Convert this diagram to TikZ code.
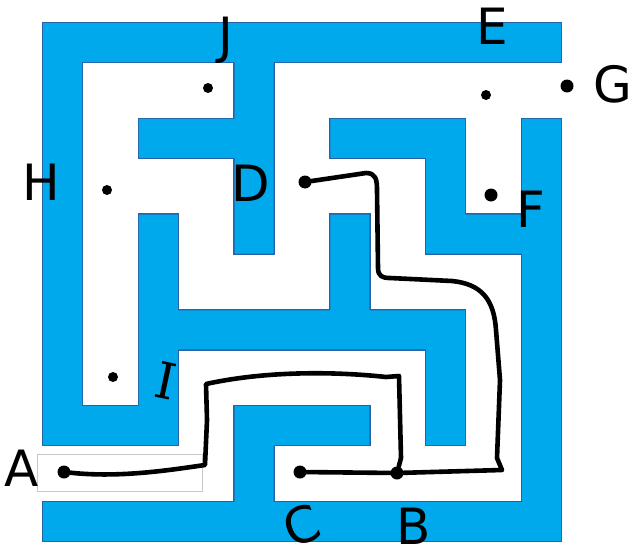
\documentclass[tikz,border=0pt]{standalone}
\usepackage{fontspec}
\setmainfont{DejaVu Sans}
\newfontfamily\handserif{DejaVu Serif}
\usepackage{tikz}
\usetikzlibrary{arrows.meta,positioning}
\definecolor{mazefill}{HTML}{00A9EB}
\definecolor{mazerim}{HTML}{2A60A8}
\definecolor{boxgray}{HTML}{C8C8C8}

\begin{document}
\begin{tikzpicture}[x=1pt,y=-1pt,
  lab/.style={font=\fontsize{50}{50}\selectfont,text=black,inner sep=0pt},
  dot/.style={circle,fill=black,inner sep=0pt,minimum size=13pt},
  smalldot/.style={circle,fill=black,inner sep=0pt,minimum size=10pt},
  route/.style={draw=black,line width=4.6pt,line cap=round,line join=round},
  walls/.style={fill=mazefill,preaction={draw=mazerim,line width=2.4pt}}]
\useasboundingbox[fill=white] (0,0) rectangle (634,554);
% maze walls, one path so the rim only shows on the outside
\path[walls] (43,23) rectangle (561,62)
  (43,502) rectangle (561,541)
  (43,23) rectangle (82,445.2)
  (522,118.8) rectangle (561,541)
  (138.8,118.8) rectangle (273.6,157.8)
  (330.4,118.8) rectangle (465.2,157.8)
  (234.6,23) rectangle (273.6,253.6)
  (426.2,118.8) rectangle (465.2,253.6)
  (426.2,214.6) rectangle (561,253.6)
  (138.8,214.6) rectangle (177.8,445.2)
  (330.4,214.6) rectangle (369.4,349.4)
  (138.8,310.4) rectangle (465.2,349.4)
  (426.2,310.4) rectangle (465.2,445.2)
  (43,406.2) rectangle (177.8,445.2)
  (234.6,406.2) rectangle (369.4,445.2)
  (234.6,406.2) rectangle (273.6,541);
% thin box round the entrance
\draw[boxgray,line width=0.8pt] (37,454) rectangle (202,491);
% points
\node[smalldot] (J) at (208,88) {};
\node[smalldot] (H) at (107,190) {};
\node[dot] (D) at (305,182) {};
\node[smalldot] (E) at (486,95) {};
\node[dot] (G) at (567,86) {};
\node[dot] (F) at (491,195) {};
\node[smalldot] (I) at (113,377) {};
\node[dot] (A) at (64,472) {};
\node[dot] (C) at (300,472) {};
\node[dot] (B) at (397,473) {};
% letters
\node[lab] (labJ) at (226,40) {J};
\node[lab] (labH) at (41,182) {H};
\node[lab] (labD) at (251,183) {D};
\node[lab] (labE) at (492,26) {E};
\node[lab] (labG) at (613,84) {G};
\node[lab] (labF) at (531,209) {F};
\node[lab,font=\handserif\fontsize{50}{50}\selectfont,rotate=-12] (labI) at (166,381) {I};
\node[lab] (labA) at (22,468) {A};
\node[lab,rotate=20] (labC) at (302,525) {C};
\node[lab] (labB) at (414,526) {B};
% routes
\draw[route] (A) .. controls (120,478) and (170,470) .. (205,465) -- (207,420) -- (206,384)
  .. controls (270,370) and (340,372) .. (386,377) -- (399,376) -- (401,458) -- (B);
\draw[route] (D) -- (366,173) .. controls (376,173) and (377,180) .. (377,190) -- (378,268)
  .. controls (378,276) and (382,278) .. (390,278) -- (452,281)
  .. controls (482,284) and (494,300) .. (496,330) -- (500,380) -- (497,458) -- (502,470) -- (B);
\draw[route] (B) -- (C);
\end{tikzpicture}
\end{document}
